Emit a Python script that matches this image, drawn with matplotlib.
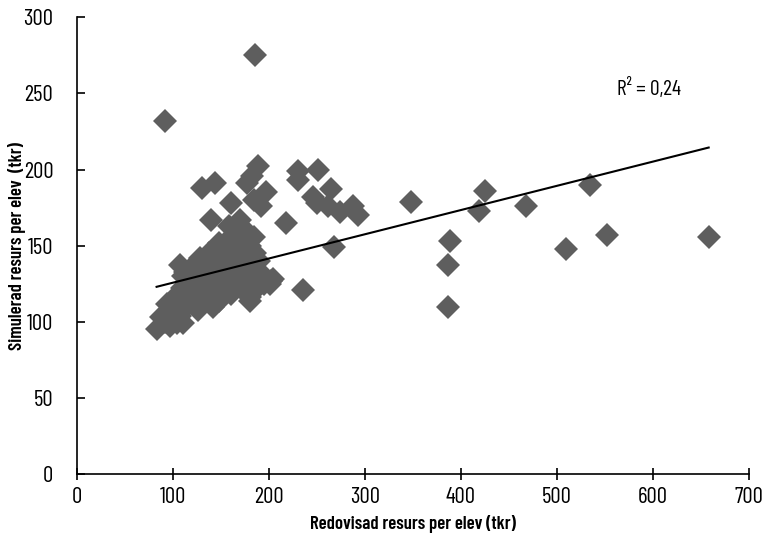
import numpy as np
import matplotlib
matplotlib.use("Agg")
import matplotlib.pyplot as plt

plt.rcParams['font.family'] = ['Barlow Condensed', 'DejaVu Sans']

# Redovisad resurs per elev (tkr) and simulerad resurs per elev (tkr) per school unit
redovisad = [
    83, 88, 92, 96, 97, 100, 102, 104, 107, 110, 106, 109, 112, 114, 116, 118,
    120, 122, 124, 107, 110, 113, 126, 128, 130, 132, 134, 136, 138, 140, 140,
    142, 144, 146, 148, 150, 150, 152, 154, 156, 158, 160, 160, 162, 164, 166,
    168, 170, 170, 172, 174, 176, 178, 180, 180, 182, 184, 186, 188, 190, 192,
    195, 202, 165, 175, 148, 138, 128, 118, 100, 94, 104, 126, 142, 180, 201,
    204,
    130, 144, 189, 182, 177, 197, 161, 140, 184, 192, 158, 170, 184, 163,
    92, 186, 218, 230, 230, 251, 246, 265, 262, 274, 288, 293, 250, 236, 268,
    348, 425, 419, 468, 534, 389, 387, 386, 509, 552, 658,
]
simulerad = [
    95, 103, 100, 106, 97, 108, 112, 100, 104, 99, 118, 122, 115, 110, 120, 126,
    113, 118, 130, 137, 130, 133, 122, 135, 112, 127, 140, 118, 131, 122, 112,
    136, 143, 126, 114, 132, 140, 120, 146, 128, 137, 118, 150, 133, 142, 125,
    155, 138, 130, 147, 120, 135, 143, 116, 150, 128, 137, 145, 122, 140, 132,
    125, 127, 160, 160, 152, 145, 142, 135, 115, 112, 99, 108, 110, 114, 125,
    128,
    188, 191, 202, 196, 191, 185, 178, 167, 180, 176, 163, 167, 156, 157,
    232, 275, 165, 199, 193, 200, 182, 187, 176, 172, 176, 170, 178, 121, 149,
    179, 186, 173, 176, 190, 153, 137, 110, 148, 157, 156,
]

# Linear trend: y = trend_slope * x + trend_intercept, with its R²
trend_slope = 0.159
trend_intercept = 109.8
r_squared = 0.24

x_ticks = [0, 100, 200, 300, 400, 500, 600, 700]
y_ticks = [0, 50, 100, 150, 200, 250, 300]

x = np.array(redovisad, dtype=float)
y = np.array(simulerad, dtype=float)

fig = plt.figure(figsize=(7.69, 5.37), dpi=100)
ax = fig.add_axes([0.100, 0.117, 0.874, 0.851])

ax.plot(x, y, linestyle='none', marker='D', markersize=12.5,
        markerfacecolor='#5e5e5e', markeredgewidth=0, zorder=2)

xs = np.array([x.min(), x.max()])
ax.plot(xs, trend_slope * xs + trend_intercept, color='black',
        linewidth=1.5, zorder=3)

ax.text(562, 253, f"R² = {r_squared:.2f}".replace('.', ','), fontsize=15.5,
        ha='left', va='center')

ax.set_xlim(0, 700)
ax.set_ylim(0, 300)
ax.set_xticks(x_ticks)
ax.set_yticks(y_ticks)
ax.tick_params(axis='x', direction='inout', length=9, width=1.2,
               labelsize=16.5, pad=5)
ax.tick_params(axis='y', direction='in', length=6, width=1.2,
               labelsize=16.5, pad=17)
for side in ('top', 'right'):
    ax.spines[side].set_visible(False)
for side in ('left', 'bottom'):
    ax.spines[side].set_linewidth(1.2)

ax.set_xlabel('Redovisad resurs per elev (tkr)', fontsize=13.5,
              fontweight='semibold', labelpad=5)
ax.set_ylabel('Simulerad resurs per elev  (tkr)', fontsize=13.5,
              fontweight='semibold', va='center')
ax.yaxis.set_label_coords(-0.089, 0.5)

fig.savefig('out.png', dpi=100)
